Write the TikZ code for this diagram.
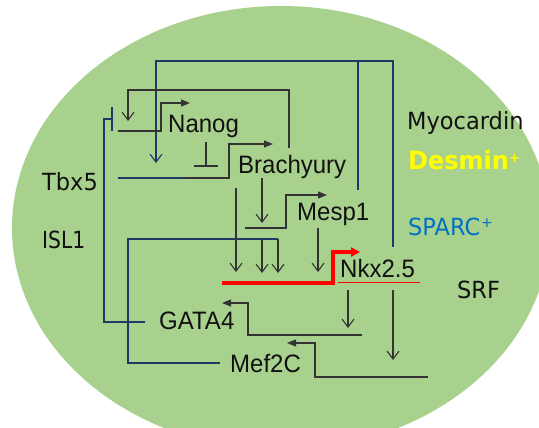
\documentclass[tikz,border=0pt]{standalone}
\usepackage{fontspec}
\setmainfont{Liberation Sans}
\newfontfamily\sidefont{DejaVu Sans}
\usetikzlibrary{arrows.meta}
\definecolor{bggreen}{HTML}{A9D18E}
\definecolor{navyln}{HTML}{1F3864}
\definecolor{grayln}{HTML}{333333}
\definecolor{txt}{HTML}{111111}
\definecolor{sparcblue}{HTML}{0070C0}
\definecolor{desminyellow}{HTML}{FFFF00}
\definecolor{redln}{HTML}{FF0000}
\newcommand\vtx[2][1]{\scalebox{#1}[1.05]{#2}}
\begin{document}
\begin{tikzpicture}[x=1pt,y=-1pt,
  gene/.style={anchor=base west, inner sep=0pt, text=txt, font=\fontsize{24}{28}\selectfont},
  side/.style={anchor=base west, inner sep=0pt, text=txt, font=\sidefont\fontsize{22.5}{26}\selectfont},
  nv/.style={draw=navyln, line width=1.1pt},
  gr/.style={draw=grayln, line width=1.1pt},
  oarr/.style={-{Straight Barb[length=8pt,width=12pt]}},
  farr/.style={-{Triangle[length=9pt,width=7pt]}}]
\fill[white] (0,0) rectangle (539,428);
\useasboundingbox (0,0) rectangle (539,428);
\fill[bggreen] (281,228) ellipse [x radius=269pt, y radius=222pt];

% gene labels
\node[gene] (nanog) at (168,133) {\vtx{Nanog}};
\node[gene] (brachy) at (238,173) {\vtx{Brachyury}};
\node[gene] (mesp) at (297,220) {\vtx{Mesp1}};
\node[gene] (nkx) at (340,277) {\vtx{Nkx2.5}};
\node[gene] (gata) at (159,329) {\vtx{GATA4}};
\node[gene] (mef) at (230,372) {\vtx{Mef2C}};

% side labels
\node[side] (tbx) at (42,190) {\vtx{Tbx5}};
\node[side] (isl) at (42,248) {\vtx[0.9]{ISL1}};
\node[side] (myo) at (407,130) {\vtx{Myocardin}};
\node[side, text=desminyellow, font=\sidefont\bfseries\fontsize{24}{28}\selectfont] (desmin) at (408,170) {\vtx{Desmin}\raisebox{7.5pt}{\fontsize{13}{13}\selectfont +}};
\node[side, text=sparcblue] (sparc) at (408,235) {\vtx{SPARC}\kern1pt\raisebox{7.5pt}{\fontsize{14}{14}\selectfont +}};
\node[side] (srf) at (457,298) {\vtx{SRF}};

% coordinates
\coordinate (nkxUp) at (393,247);
\coordinate (tbxIn) at (156,163);
\coordinate (mespUp) at (358,190);
\coordinate (tbxS) at (118,178);
\coordinate (brProm) at (273,144);
\coordinate (gataL) at (145,322);
\coordinate (nanogBar) at (112,119);
\coordinate (mefL) at (220,363);
\coordinate (nkxIn1) at (278,273);
\coordinate (nkxIn2) at (262,273);
\coordinate (nanogS) at (118,131);
\coordinate (nanogProm) at (190,103);
\coordinate (brTop) at (289,148);
\coordinate (nanogIn) at (128,121);
\coordinate (nanogBot) at (206,142);
\coordinate (brBar) at (206,166);
\coordinate (brBot1) at (262,178);
\coordinate (mespIn) at (262,223);
\coordinate (mespS) at (245,228);
\coordinate (mespProm) at (327,195);
\coordinate (brBot2) at (236,188);
\coordinate (nkxIn0) at (236,272);
\coordinate (mespBot) at (318,228);
\coordinate (nkxIn3) at (318,272);
\coordinate (nkxS) at (222,283);
\coordinate (nkxProm) at (360,252);
\coordinate (nkxBot1) at (348,290);
\coordinate (gataIn) at (348,328);
\coordinate (gataS) at (362,335);
\coordinate (gataProm) at (222,303);
\coordinate (nkxBot2) at (393,290);
\coordinate (mefIn) at (393,360);
\coordinate (mefS) at (428,377);
\coordinate (mefProm) at (287,343);

% navy connectors
\draw[nv,oarr] (nkxUp) -- (393,61) -| (tbxIn);
\draw[nv] (358,61) -- (mespUp);
\draw[nv] (tbxS) -- (185,178);
\draw[nv] (gataL) -- (104,322) -- (104,119) -- (nanogBar);
\draw[nv] (112,107) -- (112,131);
\draw[nv] (mefL) -- (128,363) -- (128,239) -- (278,239);
\draw[gr,oarr] (278,239) -- (nkxIn1);
\draw[gr,oarr] (262,239) -- (nkxIn2);

% gray connectors
\draw[gr,farr] (185,178) -- (229,178) -- (229,144) -- (brProm);
\draw[gr,farr] (nanogS) -- (161,131) -- (161,103) -- (nanogProm);
\draw[gr,oarr] (brTop) -- (289,90) -| (nanogIn);
\draw[gr] (nanogBot) -- (brBar);
\draw[gr] (194,166) -- (218,166);
\draw[gr,oarr] (brBot1) -- (mespIn);
\draw[gr,farr] (mespS) -- (286,228) -- (286,195) -- (mespProm);
\draw[gr,oarr] (brBot2) -- (nkxIn0);
\draw[gr,oarr] (mespBot) -- (nkxIn3);
\draw[gr,oarr] (nkxBot1) -- (gataIn);
\draw[gr,farr] (gataS) -- (248,335) -- (248,303) -- (gataProm);
\draw[gr,oarr] (nkxBot2) -- (mefIn);
\draw[gr,farr] (mefS) -- (315,377) -- (315,343) -- (mefProm);

% red promoter of Nkx2.5
\draw[draw=redln, line width=3.2pt, -{Triangle[length=9pt,width=9pt]}] (nkxS) -- (333,283) -- (333,252) -- (nkxProm);
\draw[draw=redln, line width=0.9pt] (338,282) -- (420,282);
\end{tikzpicture}
\end{document}
